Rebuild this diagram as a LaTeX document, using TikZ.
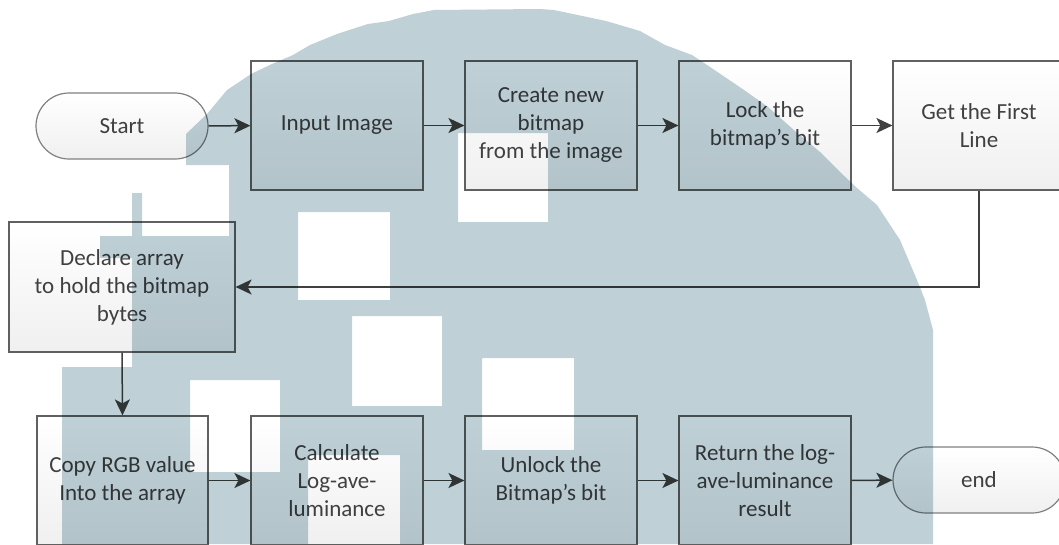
\documentclass[tikz,border=0pt]{standalone}
\usepackage{fontspec}
\setmainfont{Carlito}
\usetikzlibrary{arrows.meta}

\definecolor{txt}{RGB}{64,64,64}
\definecolor{edge}{RGB}{96,96,96}
\definecolor{wm}{RGB}{191,208,215}

\begin{document}
\begin{tikzpicture}[x=1pt,y=-1pt,
  proc/.style={draw=edge,line width=1.2pt,top color=white,bottom color=gray!12,
    text=txt,align=center,minimum width=172pt,minimum height=129pt,inner sep=0pt,
    font=\fontsize{23}{28}\selectfont},
  term/.style={proc,draw=gray,rounded corners=33pt,minimum height=66pt},
  flow/.style={-{Stealth[length=16pt,width=15pt,inset=4pt]},line width=1.5pt,draw=txt}]
  \useasboundingbox (0,0) rectangle (1059,544);
  \clip (0,0) rectangle (1059,544);
  % Top row
  \node[term] (start) at (122,126) {Start};
  \node[proc] (input) at (337,125.5) {Input Image};
  \node[proc] (create) at (551,125.5) {Create new\\bitmap\\from the image};
  \node[proc] (lock) at (765,125.5) {Lock the\\bitmap’s bit};
  \node[proc] (first) at (979,125.5) {Get the First\\Line};
  % Middle
  \node[proc,minimum width=226pt,minimum height=130pt] (declare) at (122,287)
    {Declare array\\to hold the bitmap\\bytes};
  % Bottom row
  \node[proc,minimum width=171pt] (copy) at (122.5,480.5) {Copy RGB value\\Into the array};
  \node[proc] (calc) at (337,480.5) {Calculate\\Log-ave-\\luminance};
  \node[proc] (unlock) at (551,480.5) {Unlock the\\Bitmap’s bit};
  \node[proc] (ret) at (765,480.5) {Return the log-\\ave-luminance\\result};
  \node[term] (end) at (979,480) {end};
  % Arrows
  \draw[flow] (start) -- (input);
  \draw[flow] (input) -- (create);
  \draw[flow] (create) -- (lock);
  \draw[flow] (lock) -- (first);
  \draw[flow] (first.south) |- (declare.east);
  \draw[flow] (declare.south) -- (copy.north);
  \draw[flow] (copy) -- (calc);
  \draw[flow] (calc) -- (unlock);
  \draw[flow] (unlock) -- (ret);
  \draw[flow] (ret) -- (end);
  % Watermark
  \begin{scope}[blend mode=multiply]
    \fill[wm,even odd rule] (62,544) -- (62,367) -- (132,367) -- (132,258) -- (100,258)
      -- (100,236) -- (132,236) -- (132,193) -- (142,193) -- (142,236) -- (229,236)
      -- (229,165) -- (186,165) -- (186,134) -- (207,114) -- (227,90) -- (251,74)
      -- (272,64) -- (293,55) -- (310,45) -- (337,34) -- (368,24) -- (389,21)
      -- (413,14) -- (434,10) -- (540,9) -- (554,10) -- (606,21) -- (640,31)
      -- (665,45) -- (692,55) -- (713,69) -- (744,90) -- (768,107) -- (795,131)
      -- (820,152) -- (840,172) -- (857,188) -- (877,205) -- (900,240) -- (917,280)
      -- (925,300) -- (933,330) -- (933,544) -- cycle
      (298,212) rectangle (390,300)
      (458,133) rectangle (548,222)
      (352,316) rectangle (442,406)
      (190,380) rectangle (280,472)
      (308,455) rectangle (400,544)
      (482,358) rectangle (574,450);
  \end{scope}
\end{tikzpicture}
\end{document}
